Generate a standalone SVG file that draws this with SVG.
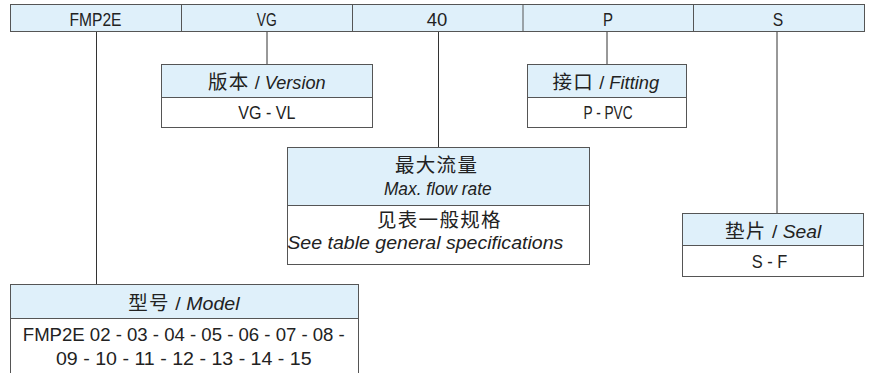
<svg xmlns="http://www.w3.org/2000/svg" width="870" height="373" viewBox="0 0 870 373">
<style>
.hd{fill:#dff0fa;stroke:#555;stroke-width:1}
.bd{fill:#fff;stroke:#555;stroke-width:1}
.t{font-family:"Liberation Sans","Noto Sans CJK SC",sans-serif;font-size:19px;fill:#222;text-anchor:middle}
.s{text-anchor:start}
.cjk{font-family:"Noto Sans CJK SC","Liberation Sans",sans-serif;font-size:19.5px;letter-spacing:1.3px}
.it{font-style:italic}
.cn{stroke:#333;stroke-width:1;fill:none}
.dv{stroke:#555;stroke-width:1}
</style>
<rect width="870" height="373" fill="#fff"/>
<g id="connectors">
<line class="cn" x1="96.5" y1="31" x2="96.5" y2="284"/>
<line class="cn" x1="267" y1="31" x2="267" y2="64"/>
<line class="cn" x1="438.5" y1="31" x2="438.5" y2="147"/>
<line class="cn" x1="607" y1="31" x2="607" y2="64"/>
<line class="cn" x1="777" y1="31" x2="777" y2="213"/>
</g>
<g id="code-bar">
<rect class="hd" x="10.5" y="4.5" width="854" height="27"/>
<line class="dv" x1="181.5" y1="4.5" x2="181.5" y2="31.5"/>
<line class="dv" x1="352.5" y1="4.5" x2="352.5" y2="31.5"/>
<line class="dv" x1="523" y1="4.5" x2="523" y2="31.5"/>
<line class="dv" x1="693.5" y1="4.5" x2="693.5" y2="31.5"/>
<text class="t" x="95.5" y="26" textLength="52" lengthAdjust="spacingAndGlyphs">FMP2E</text>
<text class="t" x="266.7" y="26" textLength="20" lengthAdjust="spacingAndGlyphs">VG</text>
<text class="t" x="437" y="26" textLength="20.5" lengthAdjust="spacingAndGlyphs">40</text>
<text class="t" x="608" y="26" textLength="10" lengthAdjust="spacingAndGlyphs">P</text>
<text class="t" x="778" y="26" textLength="10.5" lengthAdjust="spacingAndGlyphs">S</text>
</g>
<g id="version">
<rect class="hd" x="161.5" y="64.5" width="211" height="33"/>
<rect class="bd" x="161.5" y="97.5" width="211" height="30"/>
<text class="t s" x="208" y="89"><tspan class="cjk">版本</tspan><tspan textLength="76" lengthAdjust="spacingAndGlyphs"> / <tspan class="it">Version</tspan></tspan></text>
<text class="t" x="266.8" y="119" textLength="57" lengthAdjust="spacingAndGlyphs">VG - VL</text>
</g>
<g id="fitting">
<rect class="hd" x="527.5" y="64.5" width="159" height="33"/>
<rect class="bd" x="527.5" y="97.5" width="159" height="30"/>
<text class="t s" x="552.5" y="89"><tspan class="cjk">接口</tspan><tspan textLength="65" lengthAdjust="spacingAndGlyphs"> / <tspan class="it">Fitting</tspan></tspan></text>
<text class="t" x="608" y="119" textLength="49" lengthAdjust="spacingAndGlyphs">P - PVC</text>
</g>
<g id="flow">
<rect class="hd" x="287.5" y="147.5" width="302" height="58"/>
<rect class="bd" x="287.5" y="205.5" width="302" height="59"/>
<text class="t s" x="395" y="172"><tspan class="cjk">最大流量</tspan></text>
<text class="t it" x="437.8" y="195" textLength="107.7" lengthAdjust="spacingAndGlyphs">Max. flow rate</text>
<text class="t s" x="377" y="227"><tspan class="cjk">见表一般规格</tspan></text>
<text class="t it" x="425.3" y="249" textLength="276" lengthAdjust="spacingAndGlyphs">See table general specifications</text>
</g>
<g id="seal">
<rect class="hd" x="682.5" y="213.5" width="181" height="32"/>
<rect class="bd" x="682.5" y="245.5" width="181" height="31"/>
<text class="t s" x="725" y="237.5"><tspan class="cjk">垫片</tspan><tspan textLength="54.7" lengthAdjust="spacingAndGlyphs"> / <tspan class="it">Seal</tspan></tspan></text>
<text class="t" x="769.5" y="268" textLength="35.6" lengthAdjust="spacingAndGlyphs">S - F</text>
</g>
<g id="model">
<rect class="hd" x="10.5" y="284.5" width="348" height="34"/>
<rect class="bd" x="10.5" y="318.5" width="348" height="70"/>
<text class="t s" x="128.3" y="310"><tspan class="cjk">型号</tspan><tspan textLength="69.7" lengthAdjust="spacingAndGlyphs"> / <tspan class="it">Model</tspan></tspan></text>
<text class="t" x="183.8" y="341" textLength="322" lengthAdjust="spacingAndGlyphs">FMP2E 02 - 03 - 04 - 05 - 06 - 07 - 08 -</text>
<text class="t" x="183.8" y="365" textLength="255.7" lengthAdjust="spacingAndGlyphs">09 - 10 - 11 - 12 - 13 - 14 - 15</text>
</g>
</svg>
